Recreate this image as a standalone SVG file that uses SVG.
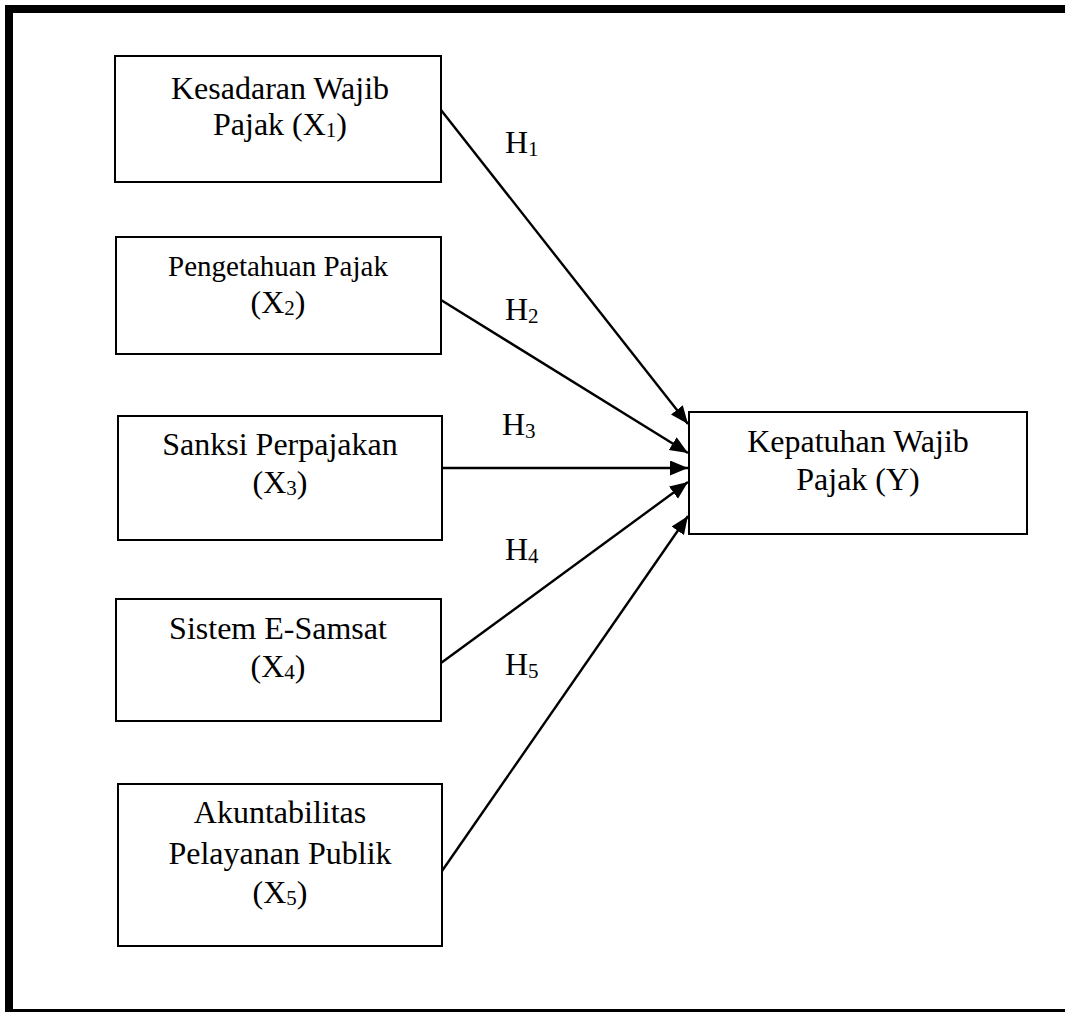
<svg xmlns="http://www.w3.org/2000/svg" width="1065" height="1012" viewBox="0 0 1065 1012">
<style>
.box{fill:#fff;stroke:#000;stroke-width:2}
.t{font-family:"Liberation Serif","Times New Roman",serif;font-size:32px;fill:#000;text-anchor:middle}
.h{font-family:"Liberation Serif","Times New Roman",serif;font-size:32px;fill:#000}
.sub{font-size:21px}
.c{stroke:#000;stroke-width:2.4;fill:none;marker-end:url(#ah)}
</style>
<defs>
<marker id="ah" markerUnits="userSpaceOnUse" markerWidth="20" markerHeight="16" refX="18" refY="7.5" orient="auto">
<path d="M0,0 L18,7.5 L0,15 Z" fill="#000"/>
</marker>
</defs>
<rect x="0" y="0" width="1065" height="1012" fill="#fff"/>
<g id="frame">
<rect x="5" y="5" width="1060" height="8" fill="#000"/>
<rect x="5" y="5" width="8" height="1007" fill="#000"/>
<rect x="5" y="1009" width="1060" height="3" fill="#000"/>
</g>
<g id="connectors">
<line class="c" x1="441" y1="110" x2="688" y2="424"/>
<line class="c" x1="441" y1="300" x2="688" y2="453"/>
<line class="c" x1="442" y1="468" x2="688" y2="468"/>
<line class="c" x1="441" y1="663" x2="688" y2="482"/>
<line class="c" x1="442" y1="871" x2="688" y2="516"/>
<text class="h" x="505" y="153">H<tspan class="sub" dy="3">1</tspan></text>
<text class="h" x="505" y="320">H<tspan class="sub" dy="3">2</tspan></text>
<text class="h" x="502" y="435">H<tspan class="sub" dy="3">3</tspan></text>
<text class="h" x="505" y="560">H<tspan class="sub" dy="3">4</tspan></text>
<text class="h" x="505" y="675">H<tspan class="sub" dy="3">5</tspan></text>
</g>
<g id="x1">
<rect class="box" x="115" y="56" width="326" height="126"/>
<text class="t" x="280" y="99">Kesadaran Wajib</text>
<text class="t" x="280" y="135">Pajak (X<tspan class="sub" dy="2">1</tspan><tspan dy="-2">)</tspan></text>
</g>
<g id="x2">
<rect class="box" x="116" y="237" width="325" height="117"/>
<text class="t" x="278" y="276" style="font-size:29px">Pengetahuan Pajak</text>
<text class="t" x="278" y="313">(X<tspan class="sub" dy="2">2</tspan><tspan dy="-2">)</tspan></text>
</g>
<g id="x3">
<rect class="box" x="118" y="416" width="324" height="124"/>
<text class="t" x="280" y="455">Sanksi Perpajakan</text>
<text class="t" x="280" y="493">(X<tspan class="sub" dy="2">3</tspan><tspan dy="-2">)</tspan></text>
</g>
<g id="x4">
<rect class="box" x="116" y="599" width="325" height="122"/>
<text class="t" x="278" y="639">Sistem E-Samsat</text>
<text class="t" x="278" y="677">(X<tspan class="sub" dy="2">4</tspan><tspan dy="-2">)</tspan></text>
</g>
<g id="x5">
<rect class="box" x="118" y="784" width="324" height="162"/>
<text class="t" x="280" y="823">Akuntabilitas</text>
<text class="t" x="280" y="864">Pelayanan Publik</text>
<text class="t" x="280" y="903">(X<tspan class="sub" dy="2">5</tspan><tspan dy="-2">)</tspan></text>
</g>
<g id="y">
<rect class="box" x="689" y="412" width="338" height="122"/>
<text class="t" x="858" y="452">Kepatuhan Wajib</text>
<text class="t" x="858" y="490">Pajak (Y)</text>
</g>
</svg>
